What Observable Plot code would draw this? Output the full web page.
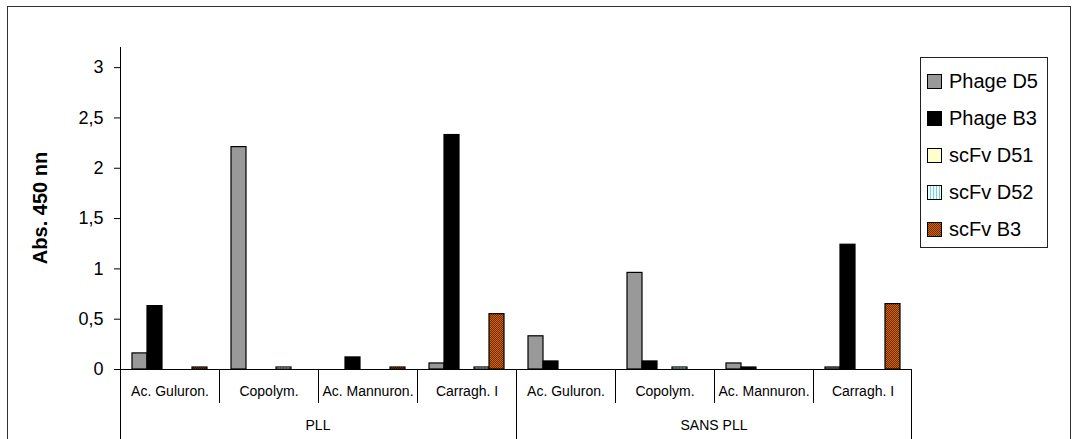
<!DOCTYPE html>
<html><head><meta charset="utf-8">
<script src="https://cdn.jsdelivr.net/npm/d3@7"></script>
<script src="https://cdn.jsdelivr.net/npm/@observablehq/plot@0.6"></script>
<style>
html,body{margin:0;padding:0;background:#fff;overflow:hidden;}
#wrap{position:relative;width:1072px;height:439px;font-family:"Liberation Sans",Arial,sans-serif;}
#frame{position:absolute;left:7px;top:6px;width:1064px;height:480px;border:1.5px solid #333;box-sizing:border-box;pointer-events:none;}
#legend{position:absolute;left:920px;top:57px;width:128px;height:191px;border:1px solid #222;box-sizing:border-box;background:#fff;}
.item{position:absolute;left:6px;height:20px;display:flex;align-items:center;font-size:20px;color:#000;white-space:nowrap;}
.item svg{margin-right:7px;}
</style></head>
<body>
<svg width="0" height="0" style="position:absolute">
<defs>
<pattern id="pD52" width="3" height="3" patternUnits="userSpaceOnUse"><rect width="3" height="3" fill="#e6ffff"/><rect width="1" height="3" fill="#8fc8d8"/></pattern>
<pattern id="pB3" width="2" height="2" patternUnits="userSpaceOnUse"><rect width="2" height="2" fill="#7a2600"/><rect width="1" height="1" fill="#c86a00"/><rect x="1" y="1" width="1" height="1" fill="#c86a00"/></pattern>
</defs></svg>
<div id="wrap"><div id="chart"></div><div id="legend"></div><div id="frame"></div></div>
<script>
// ---- data ----
const groups = ["PLL", "SANS PLL"];
const substrates = ["Ac. Guluron.", "Copolym.", "Ac. Mannuron.", "Carragh. I"];
const seriesNames = ["Phage D5", "Phage B3", "scFv D51", "scFv D52", "scFv B3"];
const seriesFills = ["#999999", "#000000", "#ffffcc", "url(#pD52)", "url(#pB3)"];
// values per category: PLL (4 substrates) then SANS PLL (4 substrates); null = no bar
const phageD5 = [0.16, 2.21, null, 0.06, 0.33, 0.96, 0.06, 0.02];
const phageB3 = [0.63, null, 0.12, 2.33, 0.08, 0.08, 0.02, 1.24];
const scFvD51 = [null, null, null, null, null, null, null, null];
const scFvD52 = [null, 0.02, null, 0.02, null, 0.02, null, null];
const scFvB3  = [0.02, null, 0.02, 0.55, null, null, null, 0.65];
const yTicks = [0, 0.5, 1, 1.5, 2, 2.5, 3];
const yLabel = "Abs. 450 nn";

// ---- table ----
const keys = groups.flatMap(g => substrates.map(s => g + "|" + s));
const valuesBySeries = [phageD5, phageB3, scFvD51, scFvD52, scFvB3];
const rows = [];
keys.forEach((k, i) => valuesBySeries.forEach((vals, j) => {
  if (vals[i] != null) rows.push({key: k, series: seriesNames[j], value: vals[i]});
}));

const chart = Plot.plot({
  width: 1072, height: 439,
  marginLeft: 119, marginRight: 159, marginTop: 47, marginBottom: 70,
  style: {fontFamily: "'Liberation Sans', Arial, sans-serif", fontSize: "14px", background: "transparent", color: "#000", overflow: "visible"},
  facet: {data: rows, x: "key"},
  fx: {domain: keys, padding: 0, axis: "bottom", tickSize: 0, tickPadding: 17, tickFormat: k => k.split("|")[1], label: null},
  x: {domain: seriesNames, paddingInner: 0, paddingOuter: 0.66, axis: null},
  y: {domain: [0, 3.2], ticks: yTicks, tickSize: 6, tickPadding: 11, tickFormat: d => String(d).replace(".", ","), label: null},
  color: {type: "ordinal", domain: seriesNames, range: seriesFills},
  marks: [
    Plot.barY(rows, {x: "series", y: "value", fill: "series", stroke: "#000", strokeWidth: 1.2}),
    Plot.ruleY([0], {stroke: "#000", strokeWidth: 1})
  ]
});
document.getElementById("chart").appendChild(chart);

// y tick label size
chart.querySelectorAll('[aria-label^="y-axis"] text').forEach(t => { t.setAttribute("font-size", "18px"); t.style.fontSize = "18px"; });

// ---- category axis lines & group labels, from Plot's scales ----
const fx = chart.scale("fx");
const ys = chart.scale("y");
const y0 = ys.apply(0);
const yTop = ys.apply(3.2);
const svg = d3.select(chart);
const g = svg.append("g").attr("stroke", "#000").attr("stroke-width", 1);
const H = 439;
const xLeft = fx.apply(keys[0]);
const xRight = fx.apply(keys[keys.length - 1]) + fx.bandwidth;
g.append("line").attr("x1", xLeft + 0.5).attr("x2", xLeft + 0.5).attr("y1", yTop).attr("y2", H);
g.append("line").attr("x1", xRight - 0.5).attr("x2", xRight - 0.5).attr("y1", y0).attr("y2", H);
keys.forEach((k, i) => {
  if (i === 0) return;
  const x = Math.round(fx.apply(k)) + 0.5;
  const isGroup = i % substrates.length === 0;
  g.append("line").attr("x1", x).attr("x2", x).attr("y1", y0).attr("y2", isGroup ? H : y0 + 34);
});
groups.forEach((grp, gi) => {
  const a = fx.apply(keys[gi * substrates.length]);
  const b = fx.apply(keys[gi * substrates.length + substrates.length - 1]) + fx.bandwidth;
  svg.append("text").attr("x", (a + b) / 2).attr("y", y0 + 61).attr("text-anchor", "middle")
    .attr("font-size", "14px").attr("fill", "#000").text(grp);
});
// y label
svg.append("text")
  .attr("transform", `translate(40,${(y0 + yTop) / 2}) rotate(-90)`)
  .attr("text-anchor", "middle").attr("dominant-baseline", "central")
  .attr("font-size", "20px").attr("font-weight", "bold").attr("fill", "#000").text(yLabel);

// ---- legend ----
const legend = document.getElementById("legend");
seriesNames.forEach((name, i) => {
  const item = document.createElement("div");
  item.className = "item";
  item.style.top = (13 + i * 37) + "px";
  item.innerHTML = `<svg width="15" height="15"><rect x="0.5" y="0.5" width="14" height="14" fill="${seriesFills[i]}" stroke="#000" stroke-width="1"/></svg><span>${name}</span>`;
  legend.appendChild(item);
});
</script>
</body></html>
